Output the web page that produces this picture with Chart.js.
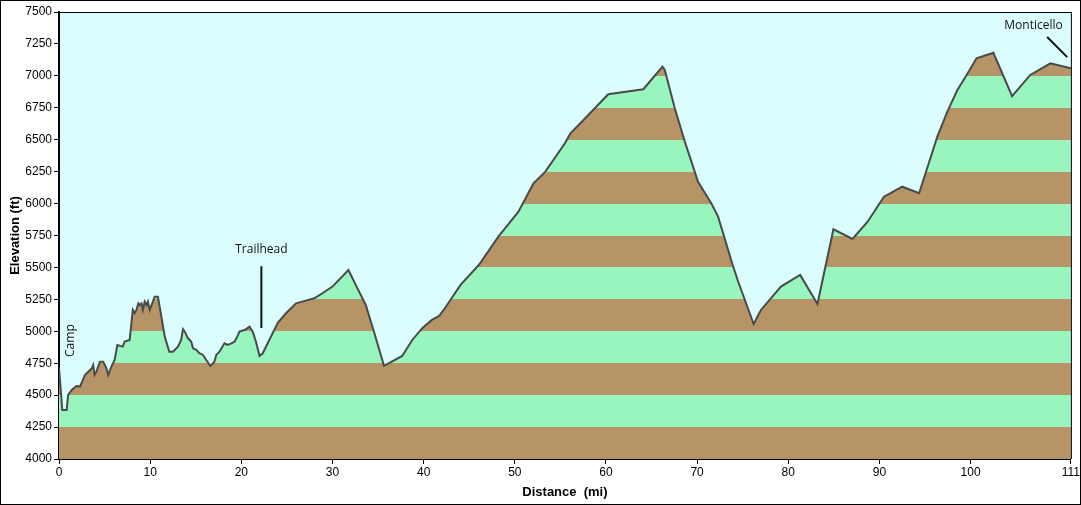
<!DOCTYPE html>
<html>
<head>
<meta charset="utf-8">
<script src="https://cdn.jsdelivr.net/npm/chart.js@4.4.1/dist/chart.umd.min.js"></script>
<style>
  html, body { margin: 0; padding: 0; background: #fff; }
  #wrap { width: 1081px; height: 505px; }
</style>
</head>
<body>
<div id="wrap"><canvas id="elevChart" width="1081" height="505"></canvas></div>
<script>
// Distance along the route (mi)
const miles = [
  0, 0.36, 0.84, 1.0, 1.4, 1.9, 2.3, 2.85, 3.6, 3.75, 3.9, 4.1, 4.5, 4.85, 5.2, 5.4,
  5.75, 6.1, 6.4, 7.0, 7.2, 7.75, 8.1, 8.3, 8.5, 8.7, 8.85, 9.05, 9.2, 9.4, 9.6, 9.75,
  9.95, 10.3, 10.5, 10.85, 11.2, 11.6, 12.1, 12.5, 13.05, 13.4, 13.6, 13.8, 14.15, 14.5,
  14.7, 15.05, 15.4, 15.8, 16.15, 16.6, 17.05, 17.25, 17.6, 18.15, 18.5, 18.9, 19.25,
  19.55, 19.8, 20.35, 20.9, 21.25, 21.6, 22.0, 22.35, 24.0, 24.9, 26.0, 26.7, 28.0,
  28.9, 30.0, 31.75, 32.55, 33.65, 34.55, 35.65, 36.2, 37.65, 38.75, 39.85, 40.9, 41.7,
  42.2, 44.05, 46.05, 48.2, 50.4, 52.05, 53.35, 55.5, 56.1, 57.35, 60.25, 64.1, 66.2,
  66.45, 67.55, 68.65, 70.1, 71.55, 72.3, 73.9, 74.5, 76.2, 77.0, 79.2, 81.3, 83.2,
  84.95, 87.05, 88.7, 90.5, 92.5, 94.35, 96.35, 97.45, 98.55, 99.45, 100.65, 102.5,
  104.55, 106.55, 108.75, 111
];

// Elevation (ft)
const elevation = [
  4715, 4384, 4384, 4501, 4540, 4572, 4567, 4658, 4710, 4736, 4658, 4684, 4762, 4762, 4710, 4658,
  4723, 4775, 4893, 4880, 4919, 4932, 5167, 5143, 5167, 5219, 5206, 5219, 5167, 5232, 5206, 5232,
  5167, 5232, 5271, 5271, 5128, 4958, 4840, 4840, 4880, 4932, 5016, 4997, 4945, 4919,
  4867, 4854, 4828, 4815, 4775, 4728, 4762, 4815, 4840, 4906, 4893, 4906, 4919,
  4958, 4997, 5010, 5036, 4997, 4919, 4807, 4828, 5067, 5141, 5219, 5232, 5258,
  5298, 5350, 5480, 5363, 5206, 4997, 4729, 4750, 4807, 4932, 5024, 5089, 5120,
  5167, 5363, 5519, 5741, 5937, 6159, 6250, 6472, 6550, 6641, 6856, 6895, 7072,
  7046, 6746, 6485, 6171, 6002, 5898, 5519, 5390, 5057, 5167, 5350, 5441, 5214,
  5799, 5723, 5858, 6054, 6132, 6081, 6524, 6720, 6889, 6993, 7137, 7181,
  6842, 7007, 7098, 7059
];

const xTicks = [0, 10, 20, 30, 40, 50, 60, 70, 80, 90, 100, 111];
const yTicks = [4000, 4250, 4500, 4750, 5000, 5250, 5500, 5750, 6000, 6250, 6500, 6750, 7000, 7250, 7500];

const BROWN = '#b69466';
const GREEN = '#99f5be';
const SKY = '#dcfdfd';

// striped fill: alternating bands every 250 ft
function bandFill(context) {
  const chart = context.chart;
  const area = chart.chartArea;
  if (!area) return BROWN;
  const y = chart.scales.y;
  const y0 = y.getPixelForValue(4000);
  const y1 = y.getPixelForValue(7500);
  const g = chart.ctx.createLinearGradient(0, y0, 0, y1);
  for (let k = 0; k < yTicks.length - 1; k++) {
    const c = k % 2 === 0 ? BROWN : GREEN;
    g.addColorStop(k / (yTicks.length - 1), c);
    g.addColorStop((k + 1) / (yTicks.length - 1), c);
  }
  return g;
}

const frame = {
  id: 'frame',
  beforeDraw(chart) {
    const { ctx, chartArea: a } = chart;
    ctx.save();
    ctx.fillStyle = SKY;
    ctx.fillRect(a.left, a.top, a.right - a.left, a.bottom - a.top);
    ctx.restore();
  },
  afterDraw(chart) {
    const { ctx, chartArea: a, scales } = chart;
    const x = scales.x, y = scales.y;
    ctx.save();
    ctx.strokeStyle = '#000';
    ctx.lineWidth = 1;
    ctx.strokeRect(0.5, 0.5, chart.width - 1, chart.height - 1);
    ctx.beginPath();
    ctx.moveTo(a.left, a.top + 0.5);
    ctx.lineTo(a.right + 0.5, a.top + 0.5);
    ctx.lineTo(a.right + 0.5, a.bottom);
    ctx.stroke();

    // annotations
    ctx.fillStyle = '#111';
    ctx.font = '12px "Open Sans", sans-serif';
    ctx.textAlign = 'center';
    ctx.textBaseline = 'middle';
    ctx.fillText('Trailhead', x.getPixelForValue(22.2), y.getPixelForValue(5640));
    ctx.fillText('Monticello', x.getPixelForValue(106.9), y.getPixelForValue(7390));
    ctx.save();
    ctx.translate(x.getPixelForValue(1.3), y.getPixelForValue(4927));
    ctx.rotate(-Math.PI / 2);
    ctx.fillText('Camp', 0, 0);
    ctx.restore();

    ctx.lineWidth = 2;
    ctx.strokeStyle = '#111';
    ctx.beginPath();
    ctx.moveTo(x.getPixelForValue(22.2), y.getPixelForValue(5510));
    ctx.lineTo(x.getPixelForValue(22.2), y.getPixelForValue(5026));
    ctx.moveTo(x.getPixelForValue(108.4), y.getPixelForValue(7304));
    ctx.lineTo(x.getPixelForValue(110.6), y.getPixelForValue(7147));
    ctx.stroke();
    ctx.restore();
  }
};

const ctx = document.getElementById('elevChart').getContext('2d');
new Chart(ctx, {
  type: 'line',
  data: {
    datasets: [{
      label: 'Elevation',
      data: miles.map((m, i) => ({ x: m, y: elevation[i] })),
      borderColor: '#474b4b',
      borderWidth: 2,
      pointRadius: 0,
      tension: 0,
      fill: 'start',
      backgroundColor: bandFill
    }]
  },
  options: {
    responsive: false,
    animation: false,
    layout: { padding: { top: 12, right: 6, left: 0, bottom: 0 } },
    plugins: { legend: { display: false }, tooltip: { enabled: false } },
    scales: {
      x: {
        type: 'linear',
        min: 0,
        max: 111,
        afterBuildTicks: s => { s.ticks = xTicks.map(v => ({ value: v })); },
        afterFit: s => { s.height = 46; },
        grid: { drawOnChartArea: false, drawTicks: true, tickLength: 5, color: '#000', lineWidth: 1 },
        border: { color: '#000', width: 2 },
        ticks: { color: '#000', font: { family: 'Liberation Sans', size: 12 }, padding: 1, maxRotation: 0, callback: v => String(v) },
        title: {
          display: true,
          text: 'Distance  (mi)',
          color: '#000',
          font: { family: 'Liberation Sans', size: 13, weight: 'bold' },
          padding: { top: 0, bottom: 5 }
        }
      },
      y: {
        type: 'linear',
        min: 4000,
        max: 7500,
        afterBuildTicks: s => { s.ticks = yTicks.map(v => ({ value: v })); },
        afterFit: s => { s.width = 59; },
        grid: { drawOnChartArea: false, drawTicks: true, tickLength: 5, color: '#000', lineWidth: 1 },
        border: { color: '#000', width: 2 },
        ticks: { color: '#000', font: { family: 'Liberation Sans', size: 12 }, padding: 2, callback: v => String(v) },
        title: {
          display: true,
          text: 'Elevation (ft)',
          color: '#000',
          font: { family: 'Liberation Sans', size: 13, weight: 'bold' },
          padding: { top: 8, bottom: 0 }
        }
      }
    }
  },
  plugins: [frame]
});
</script>
</body>
</html>
